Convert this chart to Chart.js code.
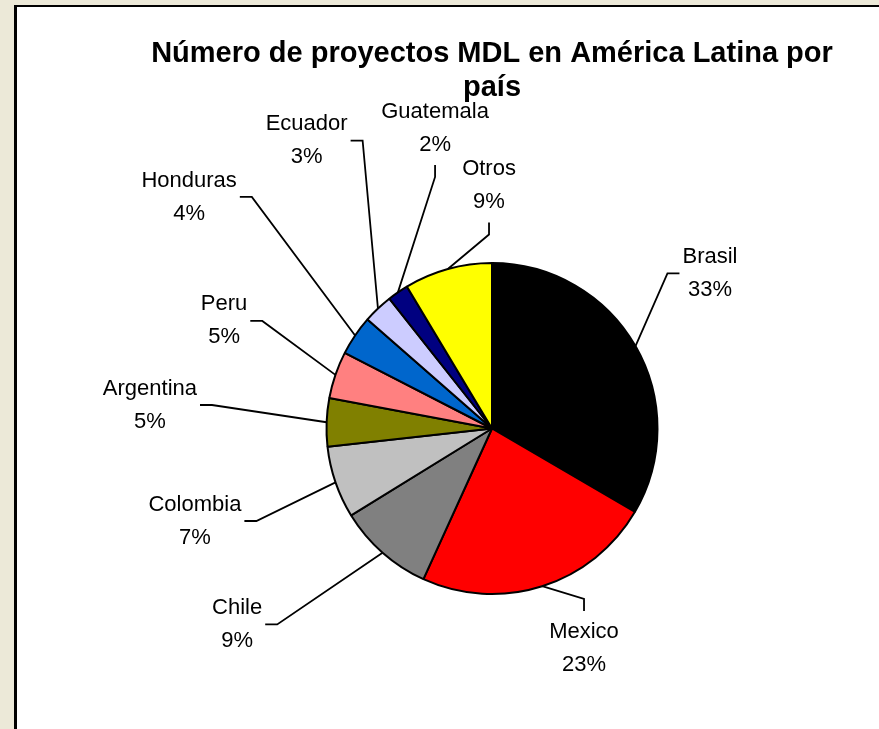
<!DOCTYPE html>
<html lang="es">
<head>
<meta charset="UTF-8">
<title>Número de proyectos MDL en América Latina por país</title>
<script src="https://cdn.jsdelivr.net/npm/chart.js"></script>
<style>
  html, body { margin: 0; padding: 0; }
  body {
    background: #ECE9D8;
    width: 879px;
    height: 729px;
    overflow: hidden;
    position: relative;
  }
  .panel {
    position: absolute;
    left: 14px;
    top: 5px;
    width: 900px;
    height: 760px;
    background: #fff;
    border-left: 3px solid #000;
    border-top: 2px solid #000;
  }
  #pie { position: absolute; left: 0; top: 0; }
</style>
</head>
<body>
<div class="panel"></div>
<canvas id="pie" width="879" height="729"></canvas>
<script>
const paises = ['Brasil', 'Mexico', 'Chile', 'Colombia', 'Argentina', 'Peru', 'Honduras', 'Ecuador', 'Guatemala', 'Otros'];
// share of projects (%)
const proyectos = [33.4, 23.4, 9.4, 7.05, 4.7, 4.6, 3.9, 2.9, 2.05, 8.6];
const colores = ['#000000', '#FF0000', '#808080', '#C0C0C0', '#808000', '#FF8080', '#0066CC', '#CCCCFF', '#000080', '#FFFF00'];

// where each label sits, in pie radii from the centre, and which side its leader leaves from
const etiquetaPos = [[1.317, -0.937], [0.556, 1.326], [-1.540, 1.184], [-1.795, 0.559], [-2.067, -0.142],
                     [-1.619, -0.650], [-1.830, -1.399], [-1.120, -1.740], [-0.344, -1.816], [-0.018, -1.468]];
const lado = ['left', 'top', 'right', 'right', 'right', 'right', 'right', 'right', 'bottom', 'bottom'];

const FONT = '"Liberation Sans", Arial, sans-serif';
const LH = 33;

const etiquetas = {
  id: 'etiquetas',
  afterDatasetsDraw(chart) {
    const ctx = chart.ctx;
    const arcs = chart.getDatasetMeta(0).data;
    const total = proyectos.reduce((a, b) => a + b, 0);
    ctx.save();
    ctx.font = '22px ' + FONT;
    ctx.fillStyle = '#000';
    ctx.strokeStyle = '#000';
    ctx.lineWidth = 1.8;
    ctx.textAlign = 'center';
    ctx.textBaseline = 'middle';
    arcs.forEach((arc, i) => {
      const p = arc.getProps(['x', 'y', 'startAngle', 'endAngle', 'outerRadius'], true);
      const mid = (p.startAngle + p.endAngle) / 2;
      const ex = p.x + Math.cos(mid) * p.outerRadius;
      const ey = p.y + Math.sin(mid) * p.outerRadius;
      const lx = p.x + etiquetaPos[i][0] * p.outerRadius;
      const ly = p.y + etiquetaPos[i][1] * p.outerRadius;
      const lines = [paises[i], Math.round(proyectos[i] / total * 100) + '%'];
      const w = Math.max(...lines.map(t => ctx.measureText(t).width));
      let ax, ay, sx, sy;
      if (lado[i] === 'left') { ax = lx - w / 2 - 3; ay = ly; sx = ax - 12; sy = ay; }
      else if (lado[i] === 'right') { ax = lx + w / 2 + 3; ay = ly; sx = ax + 12; sy = ay; }
      else if (lado[i] === 'top') { ax = lx; ay = ly - LH - 4; sx = ax; sy = ay - 12; }
      else { ax = lx; ay = ly + LH + 4; sx = ax; sy = ay + 12; }
      ctx.beginPath();
      ctx.moveTo(ax, ay);
      ctx.lineTo(sx, sy);
      ctx.lineTo(ex, ey);
      ctx.stroke();
      ctx.fillText(lines[0], lx, ly - LH / 2);
      ctx.fillText(lines[1], lx, ly + LH / 2);
    });
    ctx.restore();
  }
};

new Chart(document.getElementById('pie'), {
  type: 'pie',
  data: {
    labels: paises,
    datasets: [{
      data: proyectos,
      backgroundColor: colores,
      borderColor: '#000',
      borderWidth: 2
    }]
  },
  options: {
    responsive: false,
    animation: false,
    radius: 165.5,
    layout: { padding: { left: 105, right: 0, top: 0, bottom: 0 } },
    plugins: {
      legend: { display: false },
      tooltip: { enabled: false },
      title: {
        display: true,
        text: ['Número de proyectos MDL en América Latina por', 'país'],
        color: '#000',
        font: { family: FONT, size: 29, weight: 'bold', lineHeight: 34 / 29 },
        padding: { top: 37, bottom: 23 }
      }
    }
  },
  plugins: [etiquetas]
});
</script>
</body>
</html>
